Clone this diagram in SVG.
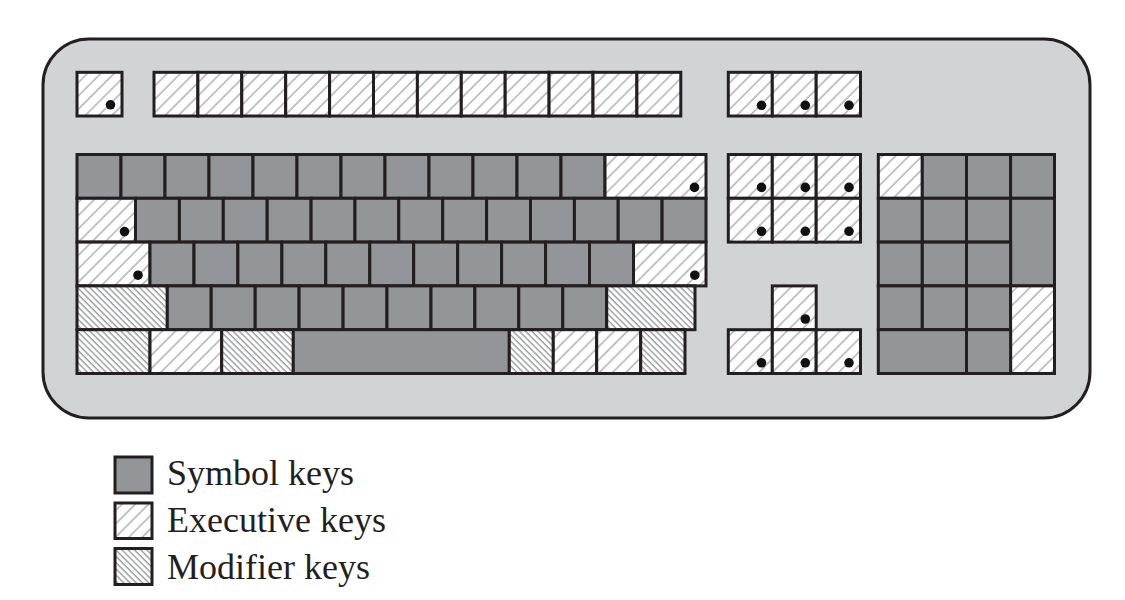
<svg xmlns="http://www.w3.org/2000/svg" width="1125" height="600" viewBox="0 0 1125 600">
<style>
.case{fill:#d1d3d4;stroke:#231f20;stroke-width:3}
.k{stroke:#231f20;stroke-width:3}
.sym{fill:#939598}
.exe{fill:url(#hExe)}
.mod{fill:url(#hMod)}
.dot{fill:#111}
.lbl{font-family:"Liberation Serif","Times New Roman",serif;font-size:36px;fill:#231f20}
</style>
<defs>
<pattern id="hExe" patternUnits="userSpaceOnUse" width="9.4" height="9.4" patternTransform="rotate(45)">
<rect width="9.4" height="9.4" fill="#fff"/>
<line x1="1" y1="-1" x2="1" y2="10.4" stroke="#9c9ea1" stroke-width="1.2"/>
</pattern>
<pattern id="hMod" patternUnits="userSpaceOnUse" width="4.4" height="4.4" patternTransform="rotate(-45)">
<rect width="4.4" height="4.4" fill="#fff"/>
<line x1="1" y1="-1" x2="1" y2="5.4" stroke="#7d7f82" stroke-width="1.1"/>
</pattern>
</defs>

<g id="keyboard-case"><rect class="case" x="43" y="39" width="1047" height="379" rx="46"/></g>

<g id="function-row">
<g id="key-esc"><rect class="k exe" x="77" y="72.3" width="45" height="43.7"/><circle class="dot" cx="110.5" cy="104.8" r="4.8"/></g>
<g id="key-f1"><rect class="k exe" x="154" y="72.3" width="43.9" height="43.7"/></g>
<g id="key-f2"><rect class="k exe" x="197.9" y="72.3" width="43.9" height="43.7"/></g>
<g id="key-f3"><rect class="k exe" x="241.8" y="72.3" width="43.9" height="43.7"/></g>
<g id="key-f4"><rect class="k exe" x="285.7" y="72.3" width="43.9" height="43.7"/></g>
<g id="key-f5"><rect class="k exe" x="329.6" y="72.3" width="43.9" height="43.7"/></g>
<g id="key-f6"><rect class="k exe" x="373.5" y="72.3" width="43.9" height="43.7"/></g>
<g id="key-f7"><rect class="k exe" x="417.4" y="72.3" width="43.9" height="43.7"/></g>
<g id="key-f8"><rect class="k exe" x="461.3" y="72.3" width="43.9" height="43.7"/></g>
<g id="key-f9"><rect class="k exe" x="505.2" y="72.3" width="43.9" height="43.7"/></g>
<g id="key-f10"><rect class="k exe" x="549.1" y="72.3" width="43.9" height="43.7"/></g>
<g id="key-f11"><rect class="k exe" x="593" y="72.3" width="43.9" height="43.7"/></g>
<g id="key-f12"><rect class="k exe" x="636.9" y="72.3" width="43.9" height="43.7"/></g>
<g id="key-prt"><rect class="k exe" x="728.3" y="72.3" width="44" height="43.7"/><circle class="dot" cx="761.5" cy="105.3" r="4.8"/></g>
<g id="key-scr"><rect class="k exe" x="772.3" y="72.3" width="43.9" height="43.7"/><circle class="dot" cx="805.3" cy="105.3" r="4.8"/></g>
<g id="key-pause"><rect class="k exe" x="816.2" y="72.3" width="44.3" height="43.7"/><circle class="dot" cx="849" cy="105.3" r="4.8"/></g>
</g>

<g id="main-block">
<g id="row1">
<g id="k1-1"><rect class="k sym" x="77" y="154.5" width="44" height="43.8"/></g>
<g id="k1-2"><rect class="k sym" x="121" y="154.5" width="44" height="43.8"/></g>
<g id="k1-3"><rect class="k sym" x="165" y="154.5" width="44" height="43.8"/></g>
<g id="k1-4"><rect class="k sym" x="209" y="154.5" width="44" height="43.8"/></g>
<g id="k1-5"><rect class="k sym" x="253" y="154.5" width="44" height="43.8"/></g>
<g id="k1-6"><rect class="k sym" x="297" y="154.5" width="44" height="43.8"/></g>
<g id="k1-7"><rect class="k sym" x="341" y="154.5" width="44" height="43.8"/></g>
<g id="k1-8"><rect class="k sym" x="385" y="154.5" width="44" height="43.8"/></g>
<g id="k1-9"><rect class="k sym" x="429" y="154.5" width="44" height="43.8"/></g>
<g id="k1-10"><rect class="k sym" x="473" y="154.5" width="44" height="43.8"/></g>
<g id="k1-11"><rect class="k sym" x="517" y="154.5" width="44" height="43.8"/></g>
<g id="k1-12"><rect class="k sym" x="561" y="154.5" width="44" height="43.8"/></g>
<g id="key-backspace"><rect class="k exe" x="605" y="154.5" width="101" height="43.8"/><circle class="dot" cx="694.5" cy="187.4" r="4.8"/></g>
</g>
<g id="row2">
<g id="key-tab"><rect class="k exe" x="77" y="198.3" width="58.5" height="43.8"/><circle class="dot" cx="124.5" cy="231.6" r="4.8"/></g>
<g id="k2-1"><rect class="k sym" x="135.5" y="198.3" width="43.9" height="43.8"/></g>
<g id="k2-2"><rect class="k sym" x="179.4" y="198.3" width="43.9" height="43.8"/></g>
<g id="k2-3"><rect class="k sym" x="223.3" y="198.3" width="43.9" height="43.8"/></g>
<g id="k2-4"><rect class="k sym" x="267.2" y="198.3" width="43.9" height="43.8"/></g>
<g id="k2-5"><rect class="k sym" x="311.1" y="198.3" width="43.9" height="43.8"/></g>
<g id="k2-6"><rect class="k sym" x="355" y="198.3" width="43.8" height="43.8"/></g>
<g id="k2-7"><rect class="k sym" x="398.8" y="198.3" width="43.9" height="43.8"/></g>
<g id="k2-8"><rect class="k sym" x="442.7" y="198.3" width="43.9" height="43.8"/></g>
<g id="k2-9"><rect class="k sym" x="486.6" y="198.3" width="43.9" height="43.8"/></g>
<g id="k2-10"><rect class="k sym" x="530.5" y="198.3" width="43.9" height="43.8"/></g>
<g id="k2-11"><rect class="k sym" x="574.4" y="198.3" width="43.8" height="43.8"/></g>
<g id="k2-12"><rect class="k sym" x="618.2" y="198.3" width="43.9" height="43.8"/></g>
<g id="k2-13"><rect class="k sym" x="662.1" y="198.3" width="43.9" height="43.8"/></g>
</g>
<g id="row3">
<g id="key-caps"><rect class="k exe" x="77" y="242.1" width="73" height="43.8"/><circle class="dot" cx="138" cy="275.2" r="4.8"/></g>
<g id="k3-1"><rect class="k sym" x="150" y="242.1" width="44" height="43.8"/></g>
<g id="k3-2"><rect class="k sym" x="194" y="242.1" width="43.9" height="43.8"/></g>
<g id="k3-3"><rect class="k sym" x="237.9" y="242.1" width="44" height="43.8"/></g>
<g id="k3-4"><rect class="k sym" x="281.9" y="242.1" width="43.9" height="43.8"/></g>
<g id="k3-5"><rect class="k sym" x="325.8" y="242.1" width="44" height="43.8"/></g>
<g id="k3-6"><rect class="k sym" x="369.8" y="242.1" width="43.9" height="43.8"/></g>
<g id="k3-7"><rect class="k sym" x="413.7" y="242.1" width="44" height="43.8"/></g>
<g id="k3-8"><rect class="k sym" x="457.7" y="242.1" width="43.9" height="43.8"/></g>
<g id="k3-9"><rect class="k sym" x="501.6" y="242.1" width="44" height="43.8"/></g>
<g id="k3-10"><rect class="k sym" x="545.6" y="242.1" width="43.9" height="43.8"/></g>
<g id="k3-11"><rect class="k sym" x="589.5" y="242.1" width="44" height="43.8"/></g>
<g id="key-enter"><rect class="k exe" x="633.5" y="242.1" width="72.5" height="43.8"/><circle class="dot" cx="694.8" cy="275.2" r="4.8"/></g>
</g>
<g id="row4">
<g id="key-lshift"><rect class="k mod" x="77" y="285.9" width="90.3" height="43.8"/></g>
<g id="k4-1"><rect class="k sym" x="167.3" y="285.9" width="43.9" height="43.8"/></g>
<g id="k4-2"><rect class="k sym" x="211.2" y="285.9" width="44" height="43.8"/></g>
<g id="k4-3"><rect class="k sym" x="255.2" y="285.9" width="43.9" height="43.8"/></g>
<g id="k4-4"><rect class="k sym" x="299.1" y="285.9" width="44" height="43.8"/></g>
<g id="k4-5"><rect class="k sym" x="343.1" y="285.9" width="43.9" height="43.8"/></g>
<g id="k4-6"><rect class="k sym" x="387" y="285.9" width="44" height="43.8"/></g>
<g id="k4-7"><rect class="k sym" x="431" y="285.9" width="43.9" height="43.8"/></g>
<g id="k4-8"><rect class="k sym" x="474.9" y="285.9" width="43.9" height="43.8"/></g>
<g id="k4-9"><rect class="k sym" x="518.8" y="285.9" width="44" height="43.8"/></g>
<g id="k4-10"><rect class="k sym" x="562.8" y="285.9" width="43.9" height="43.8"/></g>
<g id="key-rshift"><rect class="k mod" x="606.7" y="285.9" width="88.3" height="43.8"/></g>
</g>
<g id="row5">
<g id="key-lctrl"><rect class="k mod" x="77" y="329.7" width="73" height="43.8"/></g>
<g id="key-lwin"><rect class="k exe" x="150" y="329.7" width="71.7" height="43.8"/></g>
<g id="key-lalt"><rect class="k mod" x="221.7" y="329.7" width="71.6" height="43.8"/></g>
<g id="key-space"><rect class="k sym" x="293.3" y="329.7" width="216" height="43.8"/></g>
<g id="key-ralt"><rect class="k mod" x="509.3" y="329.7" width="44" height="43.8"/></g>
<g id="key-rwin"><rect class="k exe" x="553.3" y="329.7" width="43.4" height="43.8"/></g>
<g id="key-menu"><rect class="k exe" x="596.7" y="329.7" width="44" height="43.8"/></g>
<g id="key-rctrl"><rect class="k mod" x="640.7" y="329.7" width="44.3" height="43.8"/></g>
</g>
</g>

<g id="navigation-block">
<g id="key-ins"><rect class="k exe" x="728.3" y="154.5" width="44" height="43.8"/><circle class="dot" cx="761.5" cy="187.4" r="4.8"/></g>
<g id="key-home"><rect class="k exe" x="772.3" y="154.5" width="43.9" height="43.8"/><circle class="dot" cx="805.3" cy="187.4" r="4.8"/></g>
<g id="key-pgup"><rect class="k exe" x="816.2" y="154.5" width="44.3" height="43.8"/><circle class="dot" cx="849" cy="187.4" r="4.8"/></g>
<g id="key-del"><rect class="k exe" x="728.3" y="198.3" width="44" height="43.8"/><circle class="dot" cx="761.5" cy="231.3" r="4.8"/></g>
<g id="key-end"><rect class="k exe" x="772.3" y="198.3" width="43.9" height="43.8"/><circle class="dot" cx="805.3" cy="231.3" r="4.8"/></g>
<g id="key-pgdn"><rect class="k exe" x="816.2" y="198.3" width="44.3" height="43.8"/><circle class="dot" cx="849" cy="231.3" r="4.8"/></g>
</g>

<g id="arrow-block">
<g id="key-up"><rect class="k exe" x="772.3" y="285.9" width="43.9" height="43.8"/><circle class="dot" cx="805.3" cy="319" r="4.8"/></g>
<g id="key-left"><rect class="k exe" x="728.3" y="329.7" width="44" height="43.8"/><circle class="dot" cx="761.5" cy="362.8" r="4.8"/></g>
<g id="key-down"><rect class="k exe" x="772.3" y="329.7" width="43.9" height="43.8"/><circle class="dot" cx="805.3" cy="362.8" r="4.8"/></g>
<g id="key-right"><rect class="k exe" x="816.2" y="329.7" width="44.3" height="43.8"/><circle class="dot" cx="849" cy="362.8" r="4.8"/></g>
</g>

<g id="numeric-keypad">
<g id="key-numlock"><rect class="k exe" x="878.3" y="154.5" width="44" height="43.8"/></g>
<g id="np-div"><rect class="k sym" x="922.3" y="154.5" width="44.2" height="43.8"/></g>
<g id="np-mul"><rect class="k sym" x="966.5" y="154.5" width="44.1" height="43.8"/></g>
<g id="np-sub"><rect class="k sym" x="1010.6" y="154.5" width="43.9" height="43.8"/></g>
<g id="np-7"><rect class="k sym" x="878.3" y="198.3" width="44" height="43.8"/></g>
<g id="np-8"><rect class="k sym" x="922.3" y="198.3" width="44.2" height="43.8"/></g>
<g id="np-9"><rect class="k sym" x="966.5" y="198.3" width="44.1" height="43.8"/></g>
<g id="np-add"><rect class="k sym" x="1010.6" y="198.3" width="43.9" height="87.6"/></g>
<g id="np-4"><rect class="k sym" x="878.3" y="242.1" width="44" height="43.8"/></g>
<g id="np-5"><rect class="k sym" x="922.3" y="242.1" width="44.2" height="43.8"/></g>
<g id="np-6"><rect class="k sym" x="966.5" y="242.1" width="44.1" height="43.8"/></g>
<g id="np-1"><rect class="k sym" x="878.3" y="285.9" width="44" height="43.8"/></g>
<g id="np-2"><rect class="k sym" x="922.3" y="285.9" width="44.2" height="43.8"/></g>
<g id="np-3"><rect class="k sym" x="966.5" y="285.9" width="44.1" height="43.8"/></g>
<g id="np-enter"><rect class="k exe" x="1010.6" y="285.9" width="43.9" height="87.6"/></g>
<g id="np-0"><rect class="k sym" x="878.3" y="329.7" width="88.2" height="43.8"/></g>
<g id="np-dot"><rect class="k sym" x="966.5" y="329.7" width="44.1" height="43.8"/></g>
</g>

<g id="legend">
<g id="legend-symbol"><rect class="k sym" x="115" y="457" width="37" height="36"/><text class="lbl" x="167" y="485">Symbol keys</text></g>
<g id="legend-executive"><rect class="k exe" x="115" y="503" width="37" height="35.5"/><text class="lbl" x="167" y="532">Executive keys</text></g>
<g id="legend-modifier"><rect class="k mod" x="115" y="548.5" width="37" height="36"/><text class="lbl" x="167" y="579">Modifier keys</text></g>
</g>
</svg>
